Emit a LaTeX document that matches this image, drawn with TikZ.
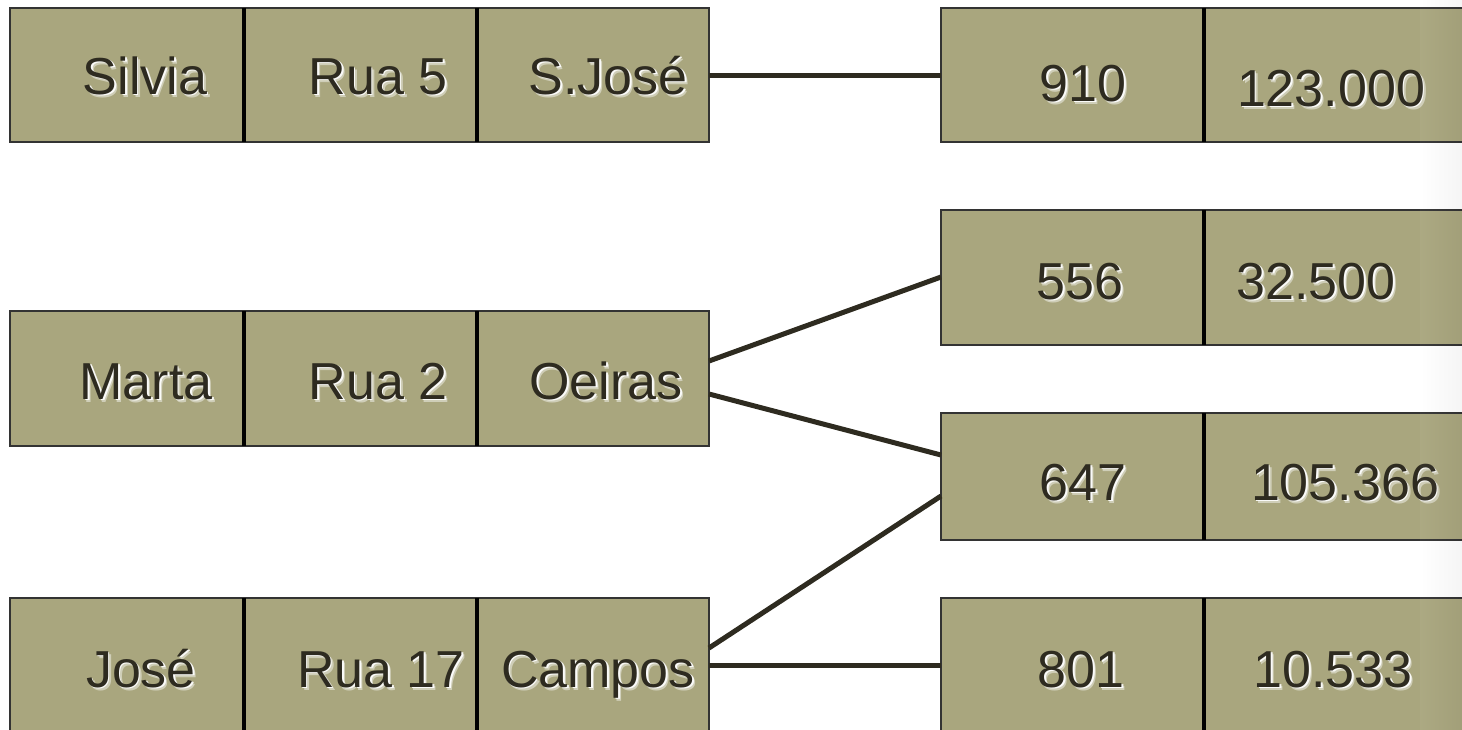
\documentclass[tikz,border=0pt]{standalone}
\usepackage{fontspec}
\setmainfont{Liberation Sans}
\definecolor{olive}{HTML}{A9A67E}
\definecolor{ink}{HTML}{2E2B20}
\tikzset{
  cellbox/.style={draw=black!80, line width=1.5pt, fill=olive},
  divider/.style={draw=black, line width=3.5pt},
  link/.style={draw=ink, line width=5pt},
  celltxt/.style={inner sep=0pt, anchor=base, font=\fontsize{52}{52}\selectfont, text=ink},
  cellglow/.style={inner sep=0pt, anchor=base, font=\fontsize{52}{52}\selectfont, text=white},
}
% text with a soft white shadow below right
\newcommand\celltext[4]{%
  \node[cellglow, opacity=0.45, xshift=3pt, yshift=-3pt] at (#2) {#4};%
  \node[cellglow, opacity=0.9, xshift=1.8pt, yshift=-1.8pt] at (#2) {#4};%
  \node[celltxt] (#1) at (#2) {#4};%
}
\begin{document}
\begin{tikzpicture}[x=1pt, y=-1pt]
\useasboundingbox (0,0) rectangle (1462,729);
\begin{scope}
\clip (0,0) rectangle (1462,729);
% left records: name, street, town
\draw[cellbox] (10,8) rectangle (709,142);
\draw[cellbox] (10,311) rectangle (709,446);
\draw[cellbox] (10,598) rectangle (709,760);
\foreach \y/\h in {8/142,311/446,598/760}{
  \draw[divider] (244,\y) -- (244,\h);
  \draw[divider] (477,\y) -- (477,\h);
}
% right records: number, amount
\draw[cellbox] (941,8) rectangle (1490,142);
\draw[cellbox] (941,210) rectangle (1490,345);
\draw[cellbox] (941,413) rectangle (1490,540);
\draw[cellbox] (941,598) rectangle (1490,760);
\foreach \y/\h in {8/142,210/345,413/540,598/760}{
  \draw[divider] (1204,\y) -- (1204,\h);
}
% anchors on the record edges
\coordinate (sjose) at (709,75);
\coordinate (oeirasA) at (709,361);
\coordinate (oeirasB) at (709,394);
\coordinate (camposA) at (709,648);
\coordinate (camposB) at (709,665);
\coordinate (r910) at (941,75);
\coordinate (r556) at (941,277);
\coordinate (r647a) at (941,455);
\coordinate (r647b) at (941,496);
\coordinate (r801) at (941,665);
\draw[link] (sjose) -- (r910);
\draw[link] (oeirasA) -- (r556);
\draw[link] (oeirasB) -- (r647a);
\draw[link] (camposA) -- (r647b);
\draw[link] (camposB) -- (r801);
% texts
\celltext{t11}{145,94}{}{Silvia}
\celltext{t12}{378,94}{}{Rua 5}
\celltext{t13}{608,94}{}{S.José}
\celltext{t21}{146,399}{}{Marta}
\celltext{t22}{378,399}{}{Rua 2}
\celltext{t23}{606,399}{}{Oeiras}
\celltext{t31}{141,687}{}{José}
\celltext{t32}{381,687}{}{Rua 17}
\celltext{t33}{598,687}{}{Campos}
\celltext{u11}{1083,101}{}{910}
\celltext{u12}{1331,106}{}{123.000}
\celltext{u21}{1080,299}{}{556}
\celltext{u22}{1316,299}{}{32.500}
\celltext{u31}{1083,500}{}{647}
\celltext{u32}{1345,500}{}{105.366}
\celltext{u41}{1081,687}{}{801}
\celltext{u42}{1333,687}{}{10.533}
% faint shade along the right edge
\shade[left color=white, right color=black, opacity=0.04] (1420,0) rectangle (1462,729);
\end{scope}
\end{tikzpicture}
\end{document}
